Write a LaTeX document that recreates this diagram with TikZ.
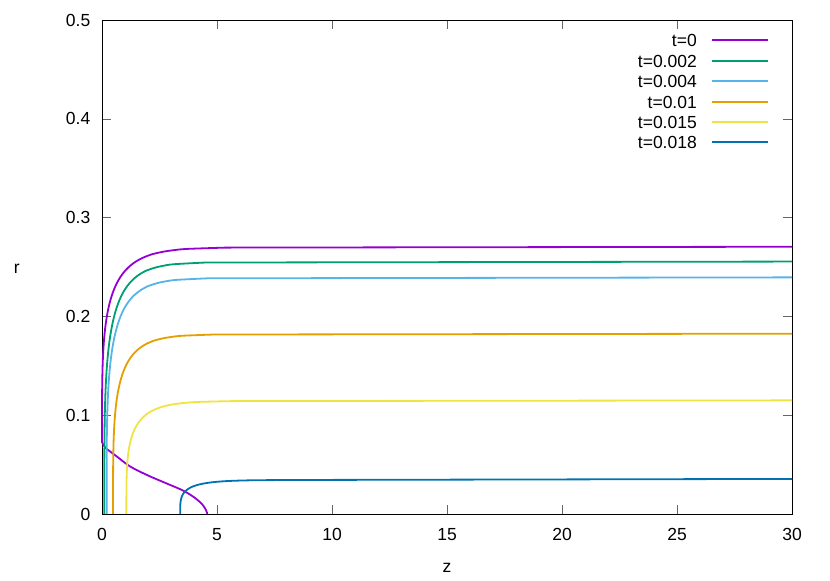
\documentclass[tikz,border=0pt]{standalone}
\usepackage{fontspec}
\setmainfont{Liberation Sans}
\begin{document}
\begin{tikzpicture}[x=1pt,y=1pt,
  lab/.style={font=\fontsize{17.5}{20}\selectfont, inner sep=0pt},
  crv/.style={line width=1.8pt},
  tk/.style={line width=0.6pt, black!60}]
\definecolor{c1}{HTML}{9400D3}
\definecolor{c2}{HTML}{009E73}
\definecolor{c3}{HTML}{56B4E9}
\definecolor{c4}{HTML}{E69F00}
\definecolor{c5}{HTML}{F0E442}
\definecolor{c6}{HTML}{0072B2}
\useasboundingbox (0,0) rectangle (830,581);
\begin{scope}[shift={(102,67)}, x=23pt, y=988pt]
  \foreach \z in {0,5,...,30} {
    \draw[tk] (\z,0) -- ++(0,9pt);
    \draw[tk] (\z,0.5) -- ++(0,-9pt);
    \node[lab,anchor=north] (xl\z) at (\z,-0.014) {\z};
  }
  \foreach \r/\l in {0/0,0.1/0.1,0.2/0.2,0.3/0.3,0.4/0.4,0.5/0.5} {
    \draw[tk] (0,\r) -- ++(9pt,0);
    \draw[tk] (30,\r) -- ++(-9pt,0);
    \node[lab,anchor=east] (yl\l) at (-0.5,\r) {\l};
  }
  \draw[line width=0.9pt] (0,0) rectangle (30,0.5);
  \node[lab] (zlab) at (15,-0.055) {z};
  \node[lab] (rlab) at (-3.7,0.2485) {r};
  \draw[crv,c1] plot[domain=0:0.999,samples=150,smooth] ({-1.1*ln(1-(\x)^(4))},{0.072+0.198*\x}) -- (30,0.2705);
  \draw[crv,c1] plot[smooth] coordinates {(0.02,0.072)(0.15,0.067)(0.6,0.059)(1.23,0.048)(2.0,0.039)(2.8,0.031)(3.5,0.024)(4.0,0.017)(4.35,0.010)(4.52,0.004)(4.58,0)};
  \draw[crv,c2] plot[domain=0:0.999,samples=150,smooth] ({0.1-0.9*ln(1-(\x)^(4))},{0.255*\x}) -- (30,0.2555);
  \draw[crv,c3] plot[domain=0:0.999,samples=150,smooth] ({0.2-0.9*ln(1-(\x)^(4))},{0.239*\x}) -- (30,0.2395);
  \draw[crv,c4] plot[domain=0:0.999,samples=150,smooth] ({0.48-0.9*ln(1-(\x)^(4))},{0.182*\x}) -- (30,0.1825);
  \draw[crv,c5] plot[domain=0:0.999,samples=150,smooth] ({1.06-0.95*ln(1-(\x)^(4))},{0.1145*\x}) -- (30,0.115);
  \draw[crv,c6] plot[domain=0:0.999,samples=150,smooth] ({3.4-1.0*ln(1-(\x)^(4))},{0.0345*\x}) -- (30,0.0355);
\end{scope}
\foreach \i/\t/\c/\y in {0/t=0/c1/541,1/t=0.002/c2/520,2/t=0.004/c3/500,3/t=0.01/c4/479,4/t=0.015/c5/459,5/t=0.018/c6/439} {
  \node[lab,anchor=east] (lg\i) at (697,\y) {\t};
  \fill[\c] (712,\y-1) rectangle (768,\y+1);
}
\end{tikzpicture}
\end{document}
